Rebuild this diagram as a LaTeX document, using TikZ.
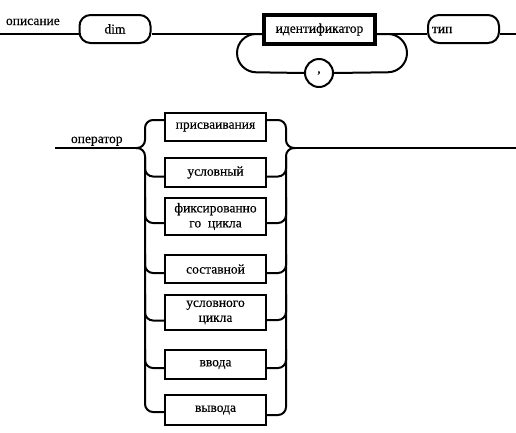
\documentclass[tikz,border=0pt]{standalone}
\usepackage{fontspec}
\setmainfont{Liberation Serif}[FakeBold=0.3]
\begin{document}
\begin{tikzpicture}[x=1pt,y=-1pt,line width=2pt,
  every node/.style={font=\fontsize{13.5}{15}\selectfont},
  term/.style={draw,rounded corners=11pt,minimum width=71pt,minimum height=28pt,inner sep=0pt},
  identbox/.style={draw,line width=3.5pt,minimum width=111pt,minimum height=29pt,inner sep=0pt},
  opbox/.style={draw,minimum width=101pt,inner sep=0pt,align=center},
  lbl/.style={anchor=base west,inner sep=0pt},
  conn/.style={rounded corners=8pt}]
\useasboundingbox (0,0) rectangle (516,432);

% ---- top: описание ----
\node[lbl] (desc) at (5,25) {описание};
\node[term,text height=9pt,text depth=0pt] (dim) at (115,29) {dim};
\node[identbox] (id) at (319.5,29.5) {идентификатор};
\node[term,text width=63pt,align=left,inner xsep=4pt,text height=8pt,text depth=0pt] (typ) at (463.5,29) {тип};
\node[draw,circle,minimum size=28pt,inner sep=0pt] (cm) at (319,73) {,};

\coordinate (s) at (0,34);
\coordinate (e) at (516,34);
\coordinate (lp) at (237,72);
\coordinate (rp) at (407,72);

\draw (s) -- (s -| dim.west);
\draw (dim.east |- s) -- (id.west |- s);
\draw (id.east |- s) -- (typ.west |- s);
\draw (typ.east |- s) -- (e);
\draw[rounded corners=19pt] (id.west |- s) -| (lp) -- (cm.west);
\draw[rounded corners=19pt] (cm.east) -- (rp) |- (id.east |- s);

% ---- bottom: оператор ----
\node[lbl] (op) at (70,143) {оператор};
\node[opbox,minimum height=28pt] (b1) at (215.5,127) {присваивания};
\node[opbox,minimum height=29pt] (b2) at (215.5,172.5) {условный};
\node[opbox,minimum height=37pt] (b3) at (215.5,216.5) {фиксированно\\го\ \ цикла};
\node[opbox,minimum height=28pt] (b4) at (215.5,269) {составной};
\node[opbox,minimum height=35pt] (b5) at (215.5,312.5) {условного\\цикла};
\node[opbox,minimum height=29pt] (b6) at (215.5,364.5) {ввода};
\node[opbox,minimum height=30pt] (b7) at (215.5,410) {вывода};

\coordinate (m0) at (55,148);
\coordinate (Lt) at (136,148);
\coordinate (Lv) at (145,148);
\coordinate (Rv) at (286,148);
\coordinate (Rt) at (295,148);
\coordinate (m1) at (516,148);

\coordinate (l1) at ([yshift=7pt]b1.west);
\coordinate (l2) at ([yshift=-4pt]b2.west);
\coordinate (l3) at ([yshift=-6.5pt]b3.west);
\coordinate (l4) at ([yshift=-4pt]b4.west);
\coordinate (l5) at ([yshift=-8pt]b5.west);
\coordinate (l6) at ([yshift=-3.5pt]b6.west);
\coordinate (l7) at ([yshift=-2pt]b7.west);

\coordinate (r1) at ([yshift=7pt]b1.east);
\coordinate (r2) at ([yshift=-4pt]b2.east);
\coordinate (r3) at ([yshift=-6.5pt]b3.east);
\coordinate (r4) at ([yshift=-4pt]b4.east);
\coordinate (r5) at ([yshift=-7.5pt]b5.east);
\coordinate (r6) at ([yshift=-3.5pt]b6.east);
\coordinate (r7) at ([yshift=-5pt]b7.east);

\draw (m0) -- (Lt);
\draw[conn] (l1) -| (Lv) -- (Lt);
\draw[conn] (Lt) -- (Lv) |- (l7);
\foreach \i in {2,...,6} { \draw[conn] (l\i) -| (Lv |- b\i.north); }

\draw (Rt) -- (m1);
\draw[conn] (r1) -| (Rv) -- (Rt);
\draw[conn] (Rt) -- (Rv) |- (r7);
\foreach \i in {2,...,6} { \draw[conn] (r\i) -| (Rv |- b\i.north); }
\end{tikzpicture}
\end{document}
